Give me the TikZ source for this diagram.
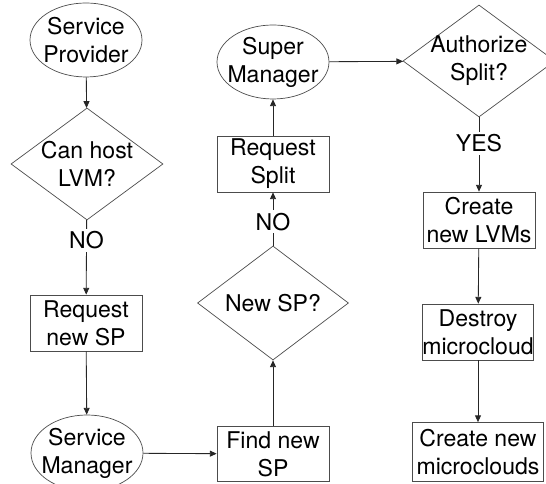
\documentclass[tikz,border=0pt]{standalone}
\usepackage{fontspec}
\setmainfont{TeX Gyre Heros}
\usetikzlibrary{
    arrows.meta,
    shapes.geometric
}

\tikzset{
    shapeline/.style={draw=black!70, line width=0.5pt},
    process/.style={shapeline, rectangle, minimum width=2.8cm, minimum height=1.4cm, inner sep=0pt, align=center},
    terminal/.style={shapeline, ellipse, minimum width=2.8cm, minimum height=1.85cm, inner sep=0pt},
    decision/.style={shapeline, diamond, minimum width=3.8cm, minimum height=2.8cm, inner sep=0pt},
    inside/.style={align=center, inner sep=0pt},
    flow/.style={draw=black!85, line width=0.6pt, -{Triangle[length=1.7mm, width=1.5mm]}},
    answer/.style={fill=white, inner sep=2pt}
}

\begin{document}
\begin{tikzpicture}[font=\fontsize{16.4}{19.9}\selectfont]
    % Fix the frame of the picture
    \useasboundingbox (0,0) rectangle (13.65,12.1);
    \clip (0,0) rectangle (13.65,12.1);

    % Left column
    \node[terminal, label={[inside]center:Service\\Provider}] (provider) at (2.15,11.1) {};
    \node[decision, label={[inside]center:Can host\\LVM?}] (canhost) at (2.175,8.0) {};
    \node[process] (reqsp) at (2.15,4.025) {Request\\new SP};
    \node[terminal, minimum height=1.9cm, label={[inside]center:Service\\Manager}] (svcmgr) at (2.175,0.775) {};

    % Middle column
    \node[process, minimum height=1.375cm] (findsp) at (6.825,0.75) {Find new\\SP};
    \node[decision, minimum width=3.775cm, minimum height=2.85cm, label={[inside]center:New SP?}] (newsp) at (6.825,4.525) {};
    \node[process] (reqsplit) at (6.825,8.0) {Request\\Split};
    \node[terminal, label={[inside]center:Super\\Manager}] (supermgr) at (6.825,10.55) {};

    % Right column
    \node[decision, label={[inside]center:Authorize\\Split?}] (authsplit) at (11.975,10.575) {};
    \node[process] (newlvms) at (11.975,6.6) {Create\\new LVMs};
    \node[process, minimum width=2.78cm] (destroy) at (11.95,3.8) {Destroy\\microcloud};
    \node[process, minimum width=3.275cm, minimum height=1.475cm] (newclouds) at (11.95,0.8) {Create new\\microclouds};

    % Connectors
    \draw[flow] (provider) -- (canhost);
    \draw[flow] (canhost) -- node[answer, pos=0.27] {NO} (reqsp);
    \draw[flow] (reqsp) -- (svcmgr);
    \draw[flow] (svcmgr) -- (findsp);
    \draw[flow] (findsp) -- (newsp);
    \draw[flow] (newsp) -- node[answer, pos=0.45] {NO} (reqsplit);
    \draw[flow] (reqsplit) -- (supermgr);
    \draw[flow] (supermgr) -- (authsplit);
    \draw[flow] (authsplit) -- node[answer, pos=0.35] {YES} (newlvms);
    \draw[flow] (newlvms) -- (destroy);
    \draw[flow] (destroy) -- (newclouds);
\end{tikzpicture}
\end{document}
